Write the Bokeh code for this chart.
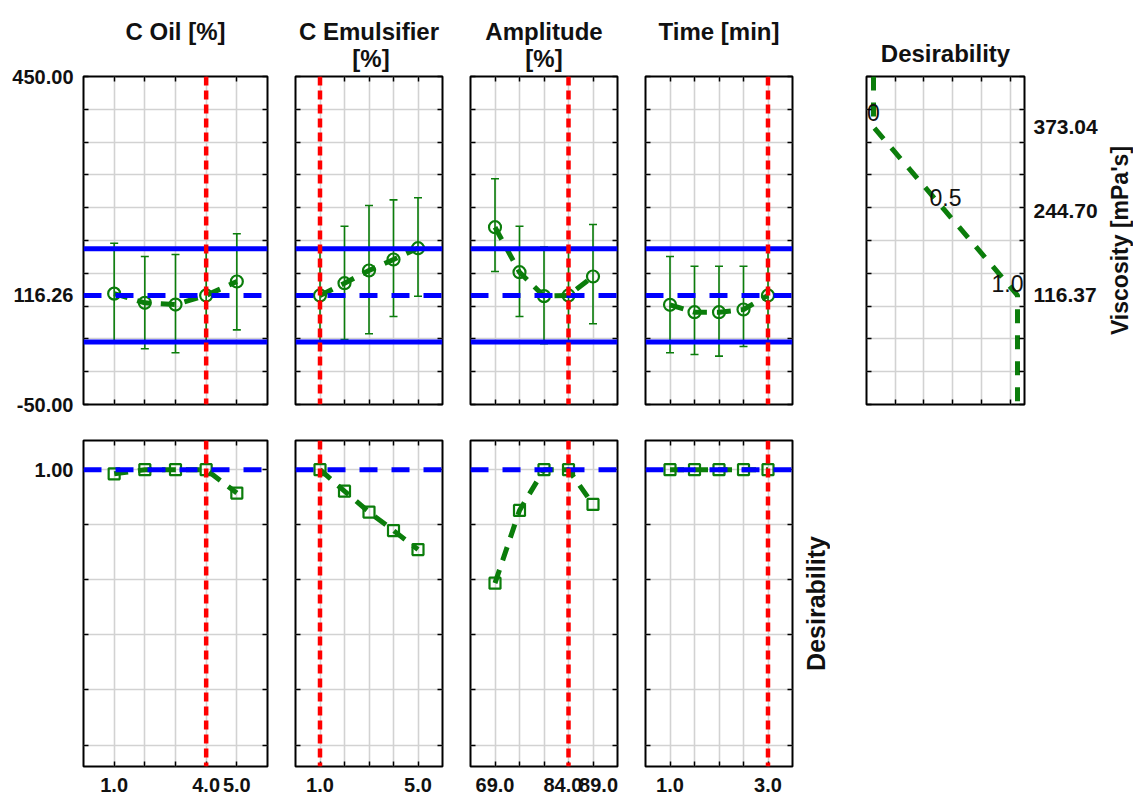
import math
from bokeh.plotting import figure
from bokeh.layouts import row, column
from bokeh.models import (ColumnDataSource, FixedTicker, LinearAxis, Span, Whisker,
                          TeeHead, PrintfTickFormatter, Range1d, Title)
from bokeh.embed import file_html
from bokeh.resources import INLINE
from bokeh.core.properties import value

# ---------------- data ----------------
factor_titles = [["C Oil [%]"], ["C Emulsifier", "[%]"], ["Amplitude", "[%]"], ["Time [min]"]]

oil_x = [1.0, 2.0, 3.0, 4.0, 5.0]
oil_visc = [119.0, 105.0, 102.4, 116.26, 137.5]
oil_lo = [43.5, 34.9, 28.8, 45.3, 63.8]
oil_hi = [195.9, 175.6, 178.7, 187.3, 210.2]
oil_des = [0.985, 1.0, 1.0, 1.0, 0.915]

emul_x = [1.0, 2.0, 3.0, 4.0, 5.0]
emul_visc = [116.26, 134.9, 154.3, 171.0, 188.3]
emul_lo = [45.3, 49.1, 57.8, 84.1, 115.1]
emul_hi = [187.3, 221.8, 253.4, 262.0, 265.1]
emul_des = [1.0, 0.922, 0.846, 0.779, 0.71]

amp_x = [69.0, 74.0, 79.0, 84.0, 89.0]
amp_visc = [220.3, 151.7, 115.2, 116.26, 145.1]
amp_lo = [152.7, 84.1, 42.5, 45.3, 73.0]
amp_hi = [294.1, 221.8, 189.9, 187.3, 224.4]
amp_des = [0.588, 0.852, 1.0, 1.0, 0.874]

time_x = [1.0, 1.5, 2.0, 2.5, 3.0]
time_visc = [102.0, 90.7, 90.7, 94.8, 116.26]
time_lo = [28.8, 26.2, 23.7, 38.4, 45.3]
time_hi = [175.6, 160.8, 160.8, 160.8, 187.3]
time_des = [1.0, 1.0, 1.0, 1.0, 1.0]

current_x = [4.0, 1.0, 84.0, 3.0]
pred_value = 116.26
pred_ci = [45.3, 187.3]

# tick labels
oil_ticks = [1.0, 4.0, 5.0]
emul_ticks = [1.0, 5.0]
amp_ticks = [69.0, 84.0, 89.0]
time_ticks = [1.0, 3.0]
visc_left_ticks = [-50.0, 116.26, 450.0]
visc_right_ticks = [116.37, 244.70, 373.04]
des_ticks = [1.0]

# desirability function (desirability vs viscosity)
des_level = [0.0, 0.0, 0.5, 1.0, 1.0]
des_visc = [450.0, 373.04, 244.70, 116.37, -50.0]
des_lab_level = [0.0, 0.5]
des_lab_visc = [373.04, 244.70]
des_lab_text = ["0", "0.5"]
des_lab2_level = [1.0]
des_lab2_visc = [116.37]
des_lab2_text = ["1.0"]

# ---------------- style ----------------
GREEN = "#0b7d0b"
RED = "#ff0000"
BLUE = "#0000ff"
GRID = "#d2d2d2"
FONT = "Liberation Sans"
INK = "#111111"
NB = "\u00a0"

visc_grid = [-50 + 50 * i for i in range(11)]
des_grid = [0.0, 0.2, 0.4, 0.6, 0.8, 1.0]

x_ranges = [(0, 6), (0, 6), (64, 94), (0.5, 3.5)]
x_grids = [[1, 2, 3, 4, 5], [1, 2, 3, 4, 5], [69, 74, 79, 84, 89], [1.0, 1.5, 2.0, 2.5, 3.0]]
x_labels = [oil_ticks, emul_ticks, amp_ticks, time_ticks]
frame_ws = [184, 147, 147, 147]
lefts = [83, 14, 14, 14]
rights = [14, 14, 14, 37]
title_pad = [0, 8, 6, 0]   # non-breaking spaces used to centre the second title line

xs = [oil_x, emul_x, amp_x, time_x]
viscs = [oil_visc, emul_visc, amp_visc, time_visc]
los = [oil_lo, emul_lo, amp_lo, time_lo]
his = [oil_hi, emul_hi, amp_hi, time_hi]
dess = [oil_des, emul_des, amp_des, time_des]


def style_axis(ax, major, minor, fmt=None, size="20px", standoff=8):
    ax.ticker = FixedTicker(ticks=major, minor_ticks=minor)
    ax.major_tick_in = 0
    ax.major_tick_out = 0
    ax.minor_tick_in = 5
    ax.minor_tick_out = 0
    ax.minor_tick_line_color = "black"
    ax.minor_tick_line_width = 1.5
    ax.axis_line_color = None
    if fmt:
        ax.formatter = PrintfTickFormatter(format=fmt)
    ax.major_label_text_font = FONT
    ax.major_label_text_font_style = "bold"
    ax.major_label_text_font_size = size
    ax.major_label_text_color = INK
    ax.major_label_standoff = standoff


def base_fig(fw, fh, xr, yr, left, right, top, bottom):
    p = figure(frame_width=fw, frame_height=fh, x_range=Range1d(*xr), y_range=Range1d(*yr),
               output_backend="svg", toolbar_location=None, title=None,
               min_border_left=left, min_border_right=right,
               min_border_top=top, min_border_bottom=bottom)
    p.outline_line_color = "black"
    p.outline_line_width = 2
    p.background_fill_color = "white"
    p.border_fill_color = "white"
    p.xgrid.grid_line_color = GRID
    p.ygrid.grid_line_color = GRID
    p.xgrid.grid_line_width = 1.6
    p.ygrid.grid_line_width = 1.6
    return p


def add_title(p, text, standoff):
    p.add_layout(Title(text=text, align="center", text_font=FONT, text_font_style="bold",
                       text_font_size="24px", text_color=INK, standoff=standoff), "above")


def label_holder(fh, top, text, size):
    """A blank strip whose left axis carries a rotated side label."""
    h = figure(frame_width=1, frame_height=fh, x_range=Range1d(0, 1), y_range=Range1d(0, 1),
               output_backend="svg", toolbar_location=None, title=None,
               min_border_left=0, min_border_right=0, min_border_top=top, min_border_bottom=0)
    h.outline_line_color = None
    h.grid.visible = False
    h.xaxis.visible = False
    h.border_fill_color = "white"
    ax = h.yaxis[0]
    ax.ticker = FixedTicker(ticks=[])
    ax.axis_line_color = None
    ax.major_tick_line_color = None
    ax.minor_tick_line_color = None
    ax.axis_label = text
    ax.axis_label_text_font = FONT
    ax.axis_label_text_font_style = "bold"
    ax.axis_label_text_font_size = size
    ax.axis_label_text_color = INK
    ax.axis_label_standoff = 0
    return h


top_figs = []
bot_figs = []
for i in range(4):
    # ---------- top row: viscosity profile ----------
    p = base_fig(frame_ws[i], 328, x_ranges[i], (-50, 450), lefts[i], rights[i], 76, 18)
    p.xgrid.ticker = FixedTicker(ticks=x_grids[i])
    p.ygrid.ticker = FixedTicker(ticks=visc_grid)
    style_axis(p.xaxis[0], [], x_grids[i])
    if i == 0:
        style_axis(p.yaxis[0], visc_left_ticks, visc_grid, fmt="%.2f", size="20px", standoff=10)
    else:
        style_axis(p.yaxis[0], [], visc_grid)
    ax_r = LinearAxis()
    style_axis(ax_r, [], visc_grid)
    p.add_layout(ax_r, "right")
    ax_t = LinearAxis()
    style_axis(ax_t, [], x_grids[i])
    p.add_layout(ax_t, "above")

    lines = factor_titles[i]
    second = (NB * title_pad[i] + lines[1]) if len(lines) > 1 else NB
    add_title(p, lines[0] + "\n" + second, 10)

    p.add_layout(Span(location=pred_ci[1], dimension="width", line_color=BLUE, line_width=5))
    p.add_layout(Span(location=pred_ci[0], dimension="width", line_color=BLUE, line_width=5))
    p.add_layout(Span(location=pred_value, dimension="width", line_color=BLUE, line_width=5,
                      line_dash="18 14"))

    src = ColumnDataSource(dict(x=xs[i], y=viscs[i], lo=los[i], hi=his[i]))
    p.line("x", "y", source=src, line_color=GREEN, line_width=5, line_dash="14 10")
    p.add_layout(Whisker(source=src, base="x", lower="lo", upper="hi", dimension="height",
                         line_color=GREEN, line_width=1.6,
                         lower_head=TeeHead(size=8, line_color=GREEN, line_width=1.6),
                         upper_head=TeeHead(size=8, line_color=GREEN, line_width=1.6)))
    p.scatter("x", "y", source=src, marker="circle", size=12, line_color=GREEN,
              line_width=2.2, fill_color=None)
    p.add_layout(Span(location=current_x[i], dimension="height", line_color=RED, line_width=4.5,
                      line_dash="9 5"))
    top_figs.append(p)

    # ---------- bottom row: desirability profile ----------
    right_b = rights[i] if i < 3 else 6
    q = base_fig(frame_ws[i], 326, x_ranges[i], (-0.078, 1.106), lefts[i], right_b, 18, 0)
    q.xgrid.ticker = FixedTicker(ticks=x_grids[i])
    q.ygrid.ticker = FixedTicker(ticks=des_grid)
    style_axis(q.xaxis[0], x_labels[i], x_grids[i], fmt="%.1f", size="20px",
               standoff=(7 if i == 2 else 11))
    if i == 2:
        q.xaxis[0].major_label_overrides = {84.0: "84.0" + NB * 2, 89.0: NB * 2 + "89.0"}
    if i == 0:
        style_axis(q.yaxis[0], des_ticks, des_grid, fmt="%.2f", size="20px", standoff=10)
    else:
        style_axis(q.yaxis[0], [], des_grid)
    axr = LinearAxis()
    style_axis(axr, [], des_grid)
    q.add_layout(axr, "right")
    axt = LinearAxis()
    style_axis(axt, [], x_grids[i])
    q.add_layout(axt, "above")

    q.add_layout(Span(location=1.0, dimension="width", line_color=BLUE, line_width=5,
                      line_dash="18 14"))
    srcd = ColumnDataSource(dict(x=xs[i], y=dess[i]))
    q.line("x", "y", source=srcd, line_color=GREEN, line_width=5, line_dash="14 10")
    q.scatter("x", "y", source=srcd, marker="square", size=11, line_color=GREEN,
              line_width=2.2, fill_color=None)
    q.add_layout(Span(location=current_x[i], dimension="height", line_color=RED, line_width=4.5,
                      line_dash="9 5"))
    bot_figs.append(q)

# ---------- desirability function panel ----------
d = base_fig(158, 328, (-0.0486, 1.0486), (-50, 450), 37, 79, 76, 18)
d_xgrid = [0.15, 0.35, 0.55, 0.75, 0.95]
d.xgrid.ticker = FixedTicker(ticks=d_xgrid)
d.ygrid.ticker = FixedTicker(ticks=visc_grid)
style_axis(d.xaxis[0], [], d_xgrid)
style_axis(d.yaxis[0], [], visc_grid)
axt = LinearAxis()
style_axis(axt, [], d_xgrid)
d.add_layout(axt, "above")
axr = LinearAxis()
style_axis(axr, visc_right_ticks, visc_grid, fmt="%.2f", size="21px", standoff=9)
d.add_layout(axr, "right")
add_title(d, "Desirability", 20)

d.line(des_level, des_visc, line_color=GREEN, line_width=5, line_dash="14 12")
d.text(des_lab_level, des_lab_visc, text=des_lab_text, text_align="center",
       text_baseline="alphabetic", y_offset=-14, text_font=value(FONT),
       text_font_size="23px", text_color=INK)
d.text(des_lab2_level, des_lab2_visc, text=des_lab2_text, text_align="right",
       text_baseline="alphabetic", x_offset=6, y_offset=-12, text_font=value(FONT),
       text_font_size="23px", text_color=INK)

visc_holder = label_holder(328, 76, "Viscosity [mPa's]", "23px")
des_holder = label_holder(326, 18, "Desirability", "25px")

layout = column(row(*top_figs, d, visc_holder), row(*bot_figs, des_holder))

open("out.html", "w").write(file_html(layout, INLINE))
